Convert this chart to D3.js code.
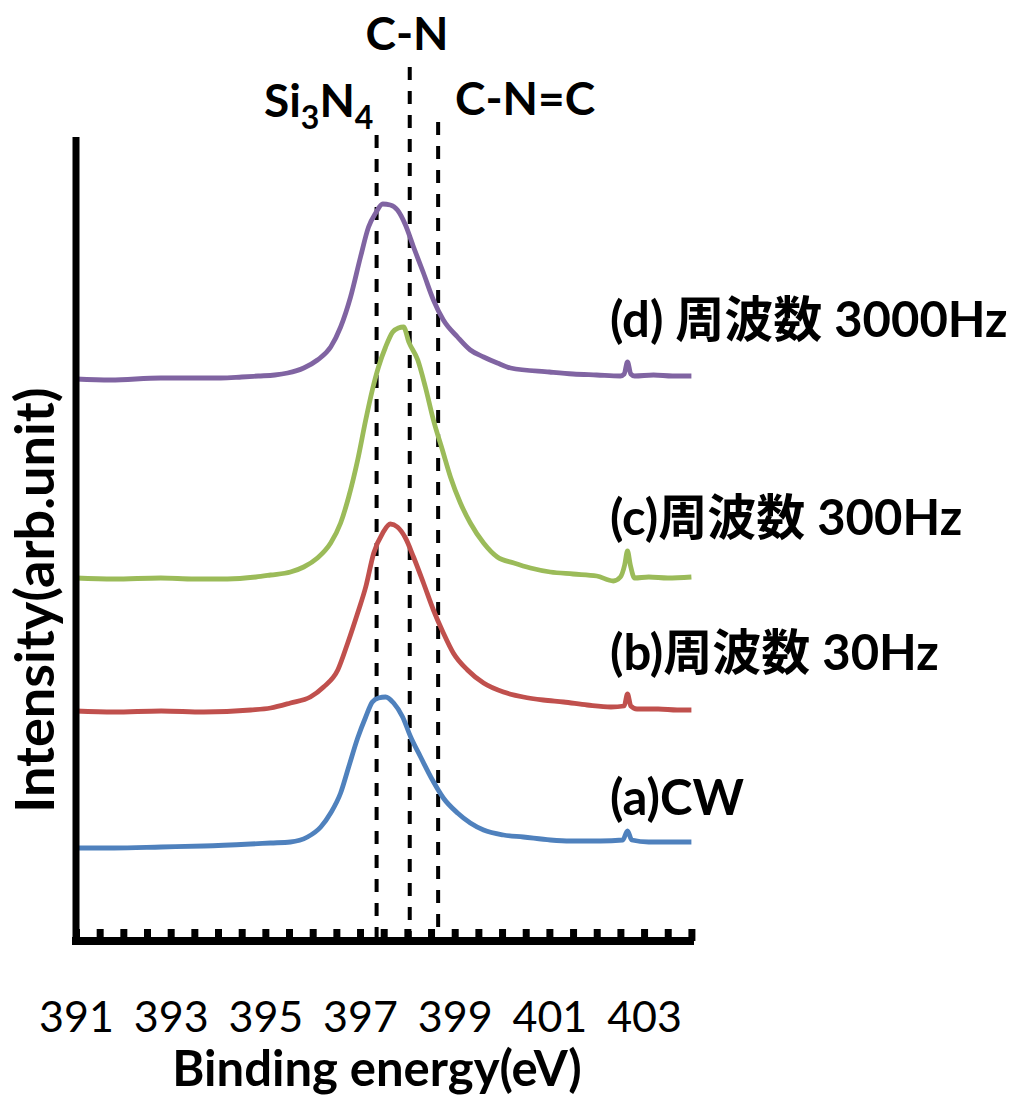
<!DOCTYPE html>
<html>
<head>
<meta charset="utf-8">
<script src="https://cdn.jsdelivr.net/npm/d3@7"></script>
<style>
 body { margin: 0; background: #fff; }
 text { font-family: Lato, "Noto Sans CJK JP", sans-serif; fill: #000; }
</style>
</head>
<body>
<svg id="chart"></svg>
<script>
// binding energy (eV) / intensity (arb. unit) pairs
const cwSeries = [
 [391.0, 93], [391.8, 93], [392.8, 94], [393.7, 95], [394.69, 97], [395.11, 98],
 [395.53, 99], [395.89, 104], [396.17, 114], [396.38, 128], [396.59, 148], [396.76, 174],
 [396.95, 203], [397.12, 224], [397.26, 239], [397.39, 243], [397.54, 244], [397.71, 238],
 [397.9, 224], [398.07, 204], [398.28, 184], [398.53, 161], [398.76, 143], [399.06, 128],
 [399.33, 118], [399.61, 111], [400.03, 106], [400.45, 104], [401.02, 101], [401.44, 100],
 [402.08, 100], [402.55, 101], [402.65, 110], [402.74, 101], [403.1, 99], [403.6, 99], [404.0, 99]
];
const hz30Series = [
 [391.0, 230], [391.8, 229], [392.8, 230], [393.7, 229], [394.69, 231], [395.11, 233],
 [395.53, 238], [395.95, 244], [396.23, 254], [396.53, 271], [396.74, 298], [396.95, 328],
 [397.12, 354], [397.29, 388], [397.48, 408], [397.64, 417], [397.79, 414], [397.96, 403],
 [398.13, 384], [398.34, 358], [398.55, 331], [398.76, 308], [398.97, 288], [399.27, 271],
 [399.61, 258], [400.03, 249], [400.45, 244], [400.87, 241], [401.3, 239], [401.8, 236],
 [402.3, 234], [402.58, 235], [402.65, 247], [402.72, 235], [402.85, 232], [403.3, 232],
 [403.7, 231], [404.0, 231]
];
const hz300Series = [
 [391.0, 363], [391.8, 362], [392.79, 363], [393.5, 362], [394.2, 362], [394.8, 364],
 [395.11, 366], [395.53, 369], [395.81, 374], [396.1, 383], [396.38, 398], [396.59, 418],
 [396.76, 444], [396.95, 481], [397.12, 521], [397.26, 551], [397.39, 574], [397.54, 594],
 [397.69, 609], [397.81, 613], [397.92, 614], [398.03, 599], [398.22, 581], [398.38, 554],
 [398.55, 521], [398.74, 491], [398.91, 464], [399.12, 438], [399.33, 418], [399.61, 398],
 [399.9, 384], [400.25, 378], [400.6, 373], [401.02, 369], [401.5, 367], [402.0, 365],
 [402.35, 360], [402.5, 364], [402.59, 376], [402.65, 390], [402.71, 376], [402.8, 363],
 [403.1, 364], [403.5, 363], [404.0, 364]
];
const hz3000Series = [
 [391.0, 562], [391.73, 561], [392.79, 563], [394.06, 563], [394.5, 564], [394.85, 565],
 [395.2, 566], [395.47, 568], [395.81, 573], [396.1, 581], [396.38, 594], [396.59, 614],
 [396.8, 644], [397.01, 684], [397.18, 714], [397.33, 728], [397.48, 737], [397.64, 736],
 [397.79, 731], [397.96, 716], [398.13, 694], [398.34, 668], [398.55, 641], [398.76, 621],
 [399.06, 604], [399.33, 591], [399.61, 584], [399.9, 578], [400.18, 573], [401.0, 569],
 [401.5, 567], [402.0, 566], [402.5, 565], [402.58, 567], [402.65, 579], [402.72, 567],
 [402.8, 565], [403.2, 566], [403.6, 565], [404.0, 565]
];

const seriesNames = ["(a)CW", "(b)周波数 30Hz", "(c)周波数 300Hz", "(d) 周波数 3000Hz"];
const seriesColors = ["#4f81bd", "#c0504d", "#9bbb59", "#8064a2"];
const allSeries = [cwSeries, hz30Series, hz300Series, hz3000Series];

const xTickLabels = [391, 393, 395, 397, 399, 401, 403];
const refNames = ["Si3N4", "C-N", "C-N=C"];
const refEnergies = [397.35, 398.05, 398.65];

const width = 1035, height = 1102;
const svg = d3.select("#chart").attr("width", width).attr("height", height);

const x = d3.scaleLinear().domain([391, 404]).range([76, 691.4]);
const y = d3.scaleLinear().domain([0, 804]).range([941, 137]);

// dashed reference lines
const refTops = [135, 67, 122];
svg.append("g").selectAll("line")
 .data(refEnergies)
 .join("line")
 .attr("x1", d => x(d)).attr("x2", d => x(d))
 .attr("y1", (d, i) => refTops[i]).attr("y2", 937)
 .attr("stroke", "#000")
 .attr("stroke-width", 4)
 .attr("stroke-dasharray", "13,11");

// spectra
const line = d3.line()
 .x(d => x(d[0]))
 .y(d => y(d[1]))
 .curve(d3.curveMonotoneX);

svg.append("g").selectAll("path")
 .data(allSeries)
 .join("path")
 .attr("d", line)
 .attr("fill", "none")
 .attr("stroke", (d, i) => seriesColors[i])
 .attr("stroke-width", 4.8)
 .attr("stroke-linejoin", "round");

// axes
const xAxis = svg.append("g")
 .attr("transform", "translate(0,941)")
 .call(d3.axisBottom(x)
 .tickValues(d3.range(391, 404.01, 0.5))
 .tickSize(-12)
 .tickSizeOuter(0)
 .tickFormat(""));
xAxis.select(".domain").attr("stroke-width", 8).attr("d", "M72,0H694");
xAxis.selectAll(".tick line").attr("stroke-width", 7);

svg.append("line")
 .attr("x1", 76).attr("x2", 76)
 .attr("y1", 137).attr("y2", 945)
 .attr("stroke", "#000")
 .attr("stroke-width", 7);

const xLabels = svg.append("g")
 .attr("transform", "translate(0,941)")
 .call(d3.axisBottom(x).tickValues(xTickLabels).tickSize(0).tickPadding(60).tickFormat(d3.format("d")));
xLabels.select(".domain").remove();
xLabels.selectAll("text")
 .style("font-family", "Lato, sans-serif")
 .style("font-size", "43px");

// axis titles
svg.append("text")
 .attr("x", 377).attr("y", 1086)
 .attr("text-anchor", "middle")
 .style("font-size", "49px").style("font-weight", "bold")
 .text("Binding energy(eV)");

svg.append("text")
 .attr("transform", "translate(54,600) rotate(-90)")
 .attr("text-anchor", "middle")
 .style("font-size", "54px").style("font-weight", "bold")
 .text("Intensity(arb.unit)");

// reference labels
svg.append("text")
 .attr("x", 407).attr("y", 50)
 .attr("text-anchor", "middle")
 .style("font-size", "46px").style("font-weight", "bold")
 .text(refNames[1]);

svg.append("text")
 .attr("x", 455).attr("y", 115)
 .style("font-size", "46px").style("font-weight", "bold")
 .text(refNames[2]);

const si = svg.append("text")
 .attr("x", 264).attr("y", 117)
 .style("font-size", "46px").style("font-weight", "bold");
si.append("tspan").text("Si");
si.append("tspan").attr("dy", 12).style("font-size", "32px").text("3");
si.append("tspan").attr("dy", -12).text("N");
si.append("tspan").attr("dy", 12).style("font-size", "32px").text("4");

// series labels
const labelY = [815, 670, 535, 337];
svg.append("g").selectAll("text")
 .data(seriesNames)
 .join("text")
 .attr("x", 610)
 .attr("y", (d, i) => labelY[i])
 .style("font-size", "49px").style("font-weight", "bold")
 .text(d => d);
</script>
</body>
</html>
